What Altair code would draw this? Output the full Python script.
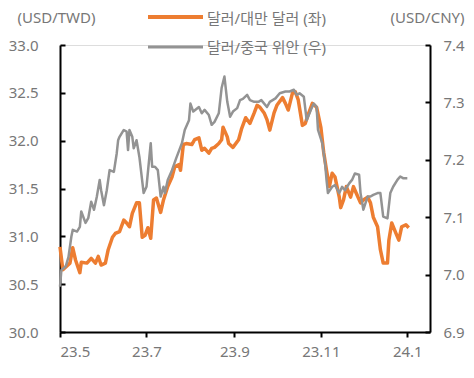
import altair as alt
import pandas as pd

# ---- data ----
twd_dates = [
    "2023-05-01", "2023-05-03", "2023-05-08", "2023-05-10", "2023-05-12", "2023-05-15", "2023-05-16",
    "2023-05-20", "2023-05-23", "2023-05-26", "2023-05-28", "2023-05-30", "2023-06-02", "2023-06-04",
    "2023-06-07", "2023-06-09", "2023-06-12", "2023-06-15", "2023-06-17", "2023-06-19", "2023-06-21",
    "2023-06-24", "2023-06-26", "2023-06-28", "2023-06-30", "2023-07-02", "2023-07-04", "2023-07-06",
    "2023-07-08", "2023-07-11", "2023-07-13", "2023-07-16", "2023-07-19", "2023-07-21", "2023-07-24",
    "2023-07-25", "2023-07-27", "2023-07-29", "2023-08-02", "2023-08-04", "2023-08-07", "2023-08-09",
    "2023-08-11", "2023-08-14", "2023-08-16", "2023-08-18", "2023-08-21", "2023-08-23", "2023-08-24",
    "2023-08-27", "2023-08-28", "2023-08-31", "2023-09-04", "2023-09-06", "2023-09-09", "2023-09-12",
    "2023-09-15", "2023-09-17", "2023-09-19", "2023-09-22", "2023-09-24", "2023-09-26", "2023-09-29",
    "2023-10-01", "2023-10-05", "2023-10-07", "2023-10-09", "2023-10-12", "2023-10-14", "2023-10-16",
    "2023-10-19", "2023-10-21", "2023-10-23", "2023-10-26", "2023-10-29", "2023-11-01", "2023-11-03",
    "2023-11-05", "2023-11-07", "2023-11-09", "2023-11-11", "2023-11-14", "2023-11-15", "2023-11-17",
    "2023-11-19", "2023-11-22", "2023-11-24", "2023-11-26", "2023-11-29", "2023-12-01", "2023-12-04",
    "2023-12-06", "2023-12-08", "2023-12-11", "2023-12-13", "2023-12-15", "2023-12-18", "2023-12-19",
    "2023-12-21", "2023-12-24", "2023-12-26", "2023-12-28", "2023-12-31", "2024-01-02",
]
twd_values = [
    30.89, 30.65, 30.72, 30.88, 30.75, 30.62, 30.73,
    30.72, 30.77, 30.72, 30.79, 30.70, 30.72, 30.86,
    30.99, 31.03, 31.05, 31.17, 31.14, 31.10, 31.24,
    31.35, 31.35, 30.99, 31.01, 31.09, 30.98, 31.38,
    31.40, 31.25, 31.38, 31.52, 31.62, 31.73, 31.75,
    31.69, 31.96, 31.97, 31.96, 32.01, 32.03, 31.90,
    31.92, 31.87, 31.92, 31.93, 31.97, 32.01, 32.14,
    32.04, 31.97, 31.93, 32.01, 32.12, 32.24, 32.18,
    32.29, 32.37, 32.35, 32.29, 32.22, 32.11, 32.29,
    32.37, 32.45, 32.39, 32.32, 32.50, 32.51, 32.43,
    32.16, 32.18, 32.27, 32.39, 32.35, 32.14, 31.88,
    31.69, 31.52, 31.66, 31.62, 31.41, 31.30, 31.38,
    31.52, 31.41, 31.52, 31.45, 31.35, 31.38, 31.41,
    31.35, 31.20, 31.10, 30.86, 30.72, 30.72, 30.96,
    31.14, 31.03, 30.96, 31.10, 31.12, 31.09,
]

cny_dates = [
    "2023-05-01", "2023-05-02", "2023-05-05", "2023-05-07", "2023-05-09", "2023-05-10", "2023-05-13",
    "2023-05-15", "2023-05-16", "2023-05-19", "2023-05-21", "2023-05-23", "2023-05-25", "2023-05-27",
    "2023-05-29", "2023-05-30", "2023-06-01", "2023-06-03", "2023-06-05", "2023-06-08", "2023-06-10",
    "2023-06-11", "2023-06-12", "2023-06-15", "2023-06-17", "2023-06-18", "2023-06-19", "2023-06-21",
    "2023-06-22", "2023-06-24", "2023-06-26", "2023-06-29", "2023-07-01", "2023-07-04", "2023-07-05",
    "2023-07-07", "2023-07-09", "2023-07-11", "2023-07-13", "2023-07-14", "2023-07-16", "2023-07-19",
    "2023-07-22", "2023-07-26", "2023-07-28", "2023-07-31", "2023-08-01", "2023-08-03", "2023-08-07",
    "2023-08-09", "2023-08-11", "2023-08-14", "2023-08-16", "2023-08-18", "2023-08-21", "2023-08-23",
    "2023-08-25", "2023-08-27", "2023-08-29", "2023-08-31", "2023-09-03", "2023-09-05", "2023-09-07",
    "2023-09-10", "2023-09-12", "2023-09-15", "2023-09-18", "2023-09-20", "2023-09-24", "2023-09-26",
    "2023-09-30", "2023-10-03", "2023-10-07", "2023-10-10", "2023-10-13", "2023-10-15", "2023-10-17",
    "2023-10-20", "2023-10-22", "2023-10-25", "2023-10-27", "2023-10-29", "2023-10-30", "2023-11-02",
    "2023-11-04", "2023-11-05", "2023-11-06", "2023-11-09", "2023-11-11", "2023-11-14", "2023-11-16",
    "2023-11-18", "2023-11-21", "2023-11-23", "2023-11-25", "2023-11-28", "2023-11-29", "2023-12-01",
    "2023-12-04", "2023-12-06", "2023-12-08", "2023-12-11", "2023-12-13", "2023-12-15", "2023-12-18",
    "2023-12-20", "2023-12-22", "2023-12-25", "2023-12-27", "2023-12-29", "2024-01-01",
]
cny_values = [
    6.979, 7.008, 7.014, 7.031, 7.066, 7.078, 7.075,
    7.083, 7.110, 7.090, 7.099, 7.127, 7.113, 7.136,
    7.165, 7.147, 7.121, 7.147, 7.182, 7.179, 7.211,
    7.234, 7.240, 7.252, 7.249, 7.217, 7.252, 7.240,
    7.220, 7.234, 7.205, 7.142, 7.153, 7.229, 7.188,
    7.188, 7.182, 7.136, 7.153, 7.142, 7.165, 7.182,
    7.203, 7.229, 7.252, 7.269, 7.298, 7.284, 7.292,
    7.281, 7.287, 7.278, 7.261, 7.266, 7.281, 7.325,
    7.345, 7.301, 7.275, 7.284, 7.290, 7.304, 7.306,
    7.313, 7.304, 7.301, 7.301, 7.304, 7.292, 7.301,
    7.307, 7.316, 7.319, 7.319, 7.322, 7.313, 7.316,
    7.310, 7.269, 7.287, 7.298, 7.292, 7.252, 7.229,
    7.194, 7.165, 7.142, 7.153, 7.156, 7.142, 7.153,
    7.147, 7.159, 7.165, 7.176, 7.174, 7.142, 7.113,
    7.136, 7.136, 7.139, 7.142, 7.142, 7.101, 7.098,
    7.142, 7.153, 7.165, 7.171, 7.168, 7.168,
]

legend_labels = ["달러/대만 달러 (좌)", "달러/중국 위안 (우)"]
axis_titles = ["(USD/TWD)", "(USD/CNY)"]
x_tick_dates = [(2023, 5), (2023, 7), (2023, 9), (2023, 11), (2024, 1)]
x_domain = [(2023, 5, 1), (2024, 1, 17)]
left_ticks = [30.0, 30.5, 31.0, 31.5, 32.0, 32.5, 33.0]
right_ticks = [6.9, 7.0, 7.1, 7.2, 7.3, 7.4]

# ---- style ----
FONT = "Noto Sans, Noto Sans CJK KR"
ORANGE = "#ED7D31"
GRAY = "#939393"
TXT = "#777777"
FS = 15

twd = pd.DataFrame({"date": twd_dates, "value": twd_values})
cny = pd.DataFrame({"date": cny_dates, "value": cny_values})

x_axis = alt.Axis(
    values=[alt.DateTime(year=y, month=m, date=1, utc=True) for y, m in x_tick_dates],
    labelExpr="utcFormat(datum.value, '%y') + '.' + (utcmonth(datum.value) + 1)",
    title=None, grid=False, tickSize=5, tickWidth=2, tickColor="black",
    domainColor="black", domainWidth=2, labelPadding=7,
    labelFont=FONT, labelFontSize=FS, labelColor=TXT,
)
x_enc = alt.X(
    "date:T",
    scale=alt.Scale(type="utc", domain=[alt.DateTime(year=y, month=m, date=d, utc=True) for y, m, d in x_domain]),
    axis=x_axis,
)

common_y_axis = dict(
    grid=False, tickWidth=2, tickColor="black", domainColor="black", domainWidth=2,
    labelFont=FONT, labelFontSize=FS, labelColor=TXT, format=".1f",
    titleAngle=0, titleFont=FONT, titleFontSize=FS, titleColor=TXT, titleFontWeight="normal",
    titleAlign="center", titleBaseline="middle", titleY=-28,
    tickSize={"expr": "-5"},
)

orange_line = alt.Chart(twd).mark_line(color=ORANGE, strokeWidth=3.5, strokeJoin="round").encode(
    x=x_enc,
    y=alt.Y("value:Q", scale=alt.Scale(domain=[30, 33], nice=False, zero=False),
            axis=alt.Axis(orient="left", values=left_ticks, title=axis_titles[0],
                          titleX=-4, labelPadding=27, **common_y_axis)),
)

gray_line = alt.Chart(cny).mark_line(color=GRAY, strokeWidth=2.5, strokeJoin="round").encode(
    x=x_enc,
    y=alt.Y("value:Q", scale=alt.Scale(domain=[6.9, 7.4], nice=False, zero=False),
            axis=alt.Axis(orient="right", values=right_ticks, title=axis_titles[1],
                          titleX=-3, labelPadding=18, **common_y_axis)),
)

leg_rule1 = alt.Chart(pd.DataFrame({"k": [0]})).mark_rule(color=ORANGE, strokeWidth=4).encode(
    x=alt.value(88), x2=alt.value(143), y=alt.value(-28))
leg_rule2 = alt.Chart(pd.DataFrame({"k": [0]})).mark_rule(color=GRAY, strokeWidth=3).encode(
    x=alt.value(88), x2=alt.value(143), y=alt.value(2))
leg_text1 = alt.Chart(pd.DataFrame({"label": [legend_labels[0]]})).mark_text(
    align="left", baseline="middle", font=FONT, fontSize=FS, color=TXT).encode(
    text="label:N", x=alt.value(147), y=alt.value(-26))
leg_text2 = alt.Chart(pd.DataFrame({"label": [legend_labels[1]]})).mark_text(
    align="left", baseline="middle", font=FONT, fontSize=FS, color=TXT).encode(
    text="label:N", x=alt.value(147), y=alt.value(3))

chart = alt.layer(orange_line, gray_line, leg_rule1, leg_rule2, leg_text1, leg_text2).resolve_scale(
    y="independent"
).properties(
    width=370, height=287,
    autosize=alt.AutoSizeParams(type="none"),
    padding={"left": 52, "top": 37, "right": 36, "bottom": 38},
).configure_view(stroke=None).configure(background="white")

chart.save("out.html", embed_options={"renderer": "svg", "actions": False})
